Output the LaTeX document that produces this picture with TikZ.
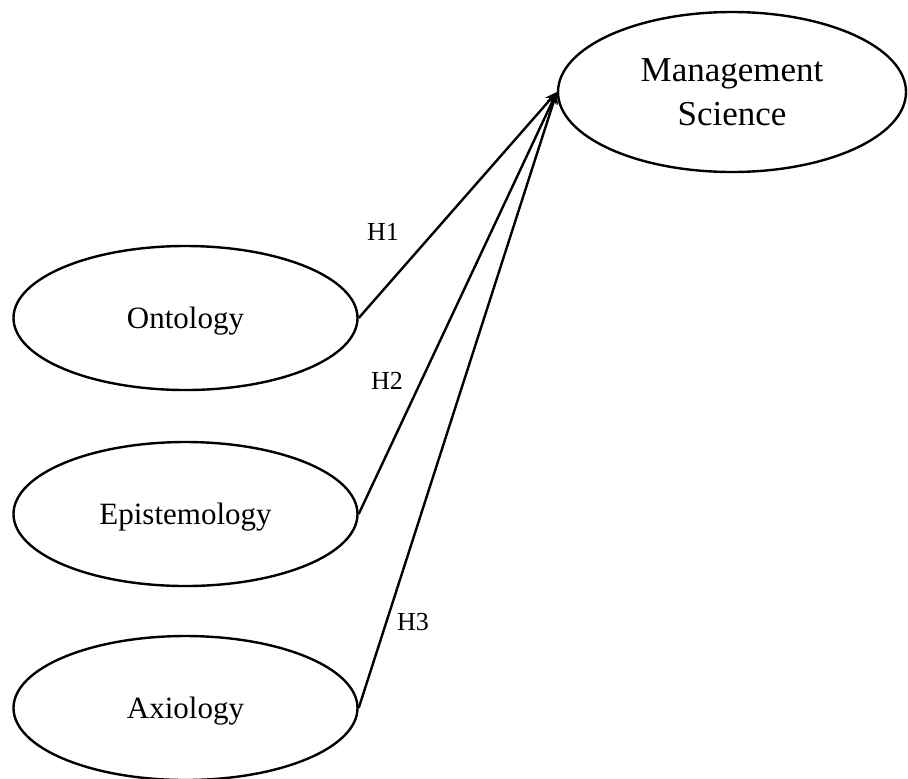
\documentclass[tikz,border=0pt]{standalone}
\usepackage{fontspec}
\setmainfont{Liberation Serif}
\usetikzlibrary{shapes.geometric,arrows.meta}
\begin{document}
\begin{tikzpicture}[x=0.5pt,y=-0.5pt,
  construct/.style={ellipse, draw, line width=1.2pt, minimum width=172pt, minimum height=72pt, inner sep=0pt, text depth=0pt, font=\fontsize{15.5}{18}\selectfont},
  hpath/.style={line width=1.2pt, -{Stealth[length=6pt,width=5pt]}},
  hyp/.style={font=\fontsize{13}{15}\selectfont, inner sep=0pt}]
\useasboundingbox (0,0) rectangle (908,778);
% constructs
\node[construct] (onto) at (185.5,318) {Ontology};
\node[construct] (epis) at (185.5,514) {Epistemology};
\node[construct] (axio) at (185.5,708) {Axiology};
\node[construct, minimum width=174pt, minimum height=80pt, align=center, font=\fontsize{17.5}{22}\selectfont] (ms) at (732,92) {Management\\Science};
% hypotheses
\draw[hpath] (onto.east) -- (ms.west);
\draw[hpath] (epis.east) -- (ms.west);
\draw[hpath] (axio.east) -- (ms.west);
\node[hyp] (h1) at (383,232) {H1};
\node[hyp] (h2) at (387,381) {H2};
\node[hyp] (h3) at (413,622) {H3};
\end{tikzpicture}
\end{document}
